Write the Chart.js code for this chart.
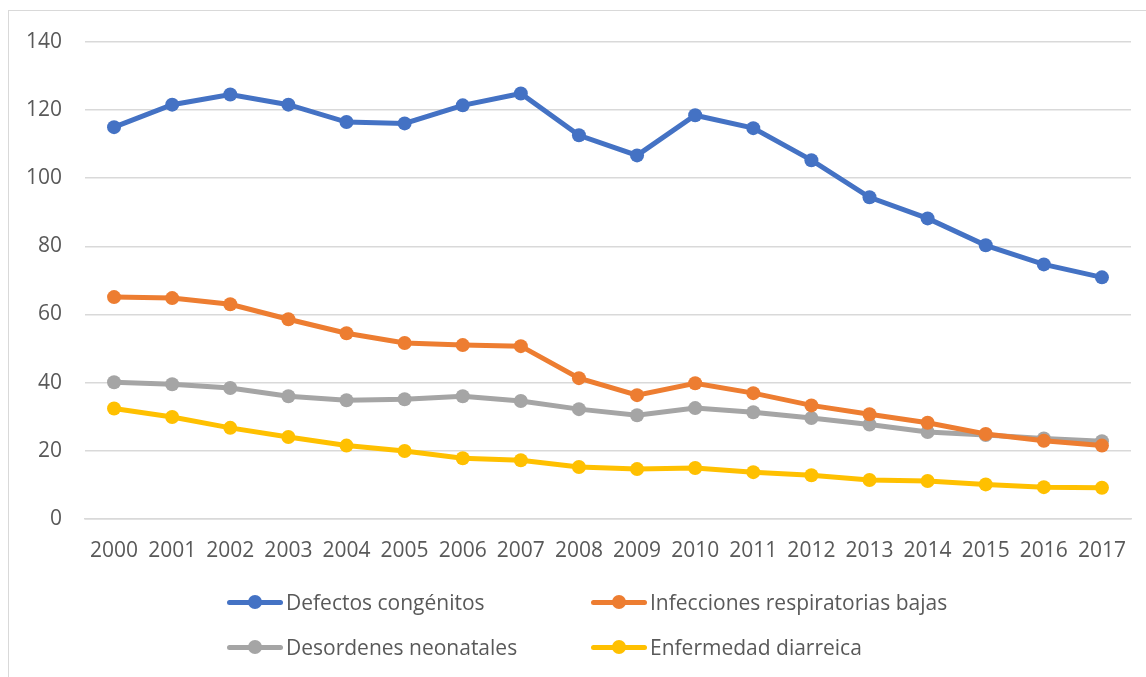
<!DOCTYPE html>
<html>
<head>
<meta charset="utf-8">
<script src="https://cdn.jsdelivr.net/npm/chart.js@4"></script>
<style>
  body { margin: 0; background: #fff; }
  #wrap { position: relative; width: 1146px; height: 677px; overflow: hidden; }
  #frame { position: absolute; left: 8px; top: 10px; width: 1200px; height: 700px; border: 1px solid #d9d9d9; box-sizing: border-box; }
  canvas { position: absolute; left: 0; top: 0; }
  #legend { position: absolute; left: 227px; top: 588px; width: 900px; font-family: "Open Sans", sans-serif; font-size: 21px; color: #595959; }
  .item { position: absolute; display: flex; align-items: center; height: 28px; white-space: nowrap; }
  .sample { position: relative; width: 56px; height: 28px; margin-right: 3px; }
  .sample .ln { position: absolute; left: 0; right: 0; top: 12px; height: 5px; border-radius: 3px; }
  .sample .dot { position: absolute; left: 21px; top: 7px; width: 14px; height: 14px; border-radius: 50%; }
</style>
</head>
<body>
<div id="wrap">
  <div id="frame"></div>
  <canvas id="chart" width="1146" height="677"></canvas>
  <div id="legend"></div>
</div>
<script>
const years = ['2000','2001','2002','2003','2004','2005','2006','2007','2008','2009','2010','2011','2012','2013','2014','2015','2016','2017'];
const defectos = [115.0, 121.6, 124.6, 121.6, 116.5, 116.1, 121.4, 124.9, 112.6, 106.7, 118.5, 114.7, 105.3, 94.4, 88.2, 80.3, 74.7, 70.9];
const infecciones = [65.1, 64.8, 63.0, 58.6, 54.5, 51.6, 51.0, 50.7, 41.3, 36.3, 39.8, 36.9, 33.3, 30.7, 28.2, 24.9, 22.9, 21.5];
const desordenes = [40.1, 39.5, 38.4, 36.0, 34.8, 35.1, 36.0, 34.6, 32.2, 30.4, 32.5, 31.3, 29.6, 27.7, 25.5, 24.6, 23.6, 22.8];
const diarreica = [32.4, 29.9, 26.7, 24.0, 21.5, 19.9, 17.8, 17.2, 15.2, 14.6, 14.9, 13.7, 12.8, 11.4, 11.1, 10.1, 9.3, 9.1];
const yTicks = [0, 20, 40, 60, 80, 100, 120, 140];

const series = [
  { label: 'Defectos congénitos', data: defectos, color: '#4472C4' },
  { label: 'Infecciones respiratorias bajas', data: infecciones, color: '#ED7D31' },
  { label: 'Desordenes neonatales', data: desordenes, color: '#A5A5A5' },
  { label: 'Enfermedad diarreica', data: diarreica, color: '#FFC000' }
];

const font = { family: '"Open Sans", sans-serif', size: 21 };

const chart = new Chart(document.getElementById('chart'), {
  type: 'line',
  data: {
    labels: years,
    datasets: series.map(s => ({
      label: s.label,
      data: s.data,
      borderColor: s.color,
      backgroundColor: s.color,
      borderWidth: 5,
      pointRadius: 7,
      pointHoverRadius: 7,
      pointBorderWidth: 0,
      tension: 0
    }))
  },
  options: {
    responsive: false,
    animation: false,
    layout: { padding: { left: 0, right: 15, top: 42, bottom: 101 } },
    plugins: { legend: { display: false }, tooltip: { enabled: false } },
    scales: {
      x: {
        offset: true,
        grid: { display: false },
        border: { color: '#d9d9d9', width: 1.5 },
        ticks: { color: '#595959', font: font, padding: 12, maxRotation: 0 }
      },
      y: {
        min: 0,
        max: 140,
        afterFit: scale => { scale.width = 85; },
        afterBuildTicks: scale => { scale.ticks = yTicks.map(v => ({ value: v })); },
        grid: { color: '#d9d9d9', lineWidth: 1.5, drawTicks: false },
        border: { display: false },
        ticks: { color: '#595959', font: font, padding: 23 }
      }
    }
  }
});

// legend built from the chart's datasets, two columns
const legend = document.getElementById('legend');
const colX = [0, 364];
const rowY = [0, 45];
chart.data.datasets.forEach((ds, i) => {
  const item = document.createElement('div');
  item.className = 'item';
  item.style.left = colX[i % 2] + 'px';
  item.style.top = rowY[Math.floor(i / 2)] + 'px';
  item.innerHTML = '<div class="sample"><div class="ln" style="background:' + ds.borderColor + '"></div>' +
    '<div class="dot" style="background:' + ds.borderColor + '"></div></div><span>' + ds.label + '</span>';
  legend.appendChild(item);
});
</script>
</body>
</html>
